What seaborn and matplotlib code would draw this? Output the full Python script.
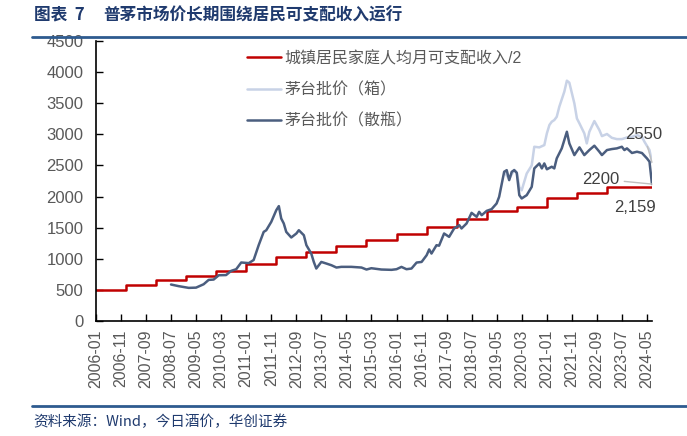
import pandas as pd
import matplotlib.pyplot as plt
import matplotlib.dates as mdates
from matplotlib.lines import Line2D
import seaborn as sns

# 城镇居民家庭人均月可支配收入/2（每年1月起更新）
income_months = ['2006-01', '2007-01', '2008-01', '2009-01', '2010-01', '2011-01', '2012-01',
                 '2013-01', '2014-01', '2015-01', '2016-01', '2017-01', '2018-01', '2019-01',
                 '2020-01', '2021-01', '2022-01', '2023-01', '2024-01', '2024-07']
income_values = [490, 574, 658, 716, 796, 909, 1024, 1103, 1202, 1300, 1401, 1517, 1635,
                 1765, 1826, 1975, 2053, 2159, 2159, 2159]

# 茅台批价（散瓶）
loose_months = ['2008-07', '2008-10', '2009-02', '2009-05', '2009-08', '2009-10', '2009-12',
                '2010-02', '2010-05', '2010-07', '2010-09', '2010-11', '2011-02', '2011-04',
                '2011-06', '2011-08', '2011-09', '2011-11', '2012-01', '2012-02', '2012-03',
                '2012-04', '2012-05', '2012-07', '2012-09', '2012-10', '2012-12', '2013-01',
                '2013-03', '2013-04', '2013-05', '2013-07', '2013-09', '2013-11', '2014-01',
                '2014-03', '2014-07', '2014-11', '2015-01', '2015-03', '2015-07', '2015-11',
                '2016-01', '2016-03', '2016-05', '2016-07', '2016-09', '2016-11', '2017-01',
                '2017-02', '2017-03', '2017-05', '2017-06', '2017-08', '2017-10', '2017-12',
                '2018-02', '2018-03', '2018-05', '2018-07', '2018-09', '2018-10', '2018-11',
                '2019-01', '2019-03', '2019-05', '2019-06', '2019-08', '2019-09', '2019-10',
                '2019-11', '2019-12', '2020-01', '2020-02', '2020-03', '2020-05', '2020-07',
                '2020-08', '2020-10', '2020-11', '2020-12', '2021-01', '2021-03', '2021-04',
                '2021-05', '2021-07', '2021-09', '2021-10', '2021-12', '2022-02', '2022-04',
                '2022-06', '2022-08', '2022-10', '2022-11', '2023-01', '2023-03', '2023-05',
                '2023-07', '2023-08', '2023-09', '2023-11', '2024-01', '2024-03', '2024-05',
                '2024-06', '2024-07']
loose_values = [586, 560, 532, 536, 590, 660, 666, 735, 738, 805, 832, 940, 930, 980,
                1218, 1432, 1458, 1593, 1781, 1846, 1647, 1567, 1432, 1342, 1406, 1459, 1378,
                1218, 1084, 949, 843, 949, 923, 896, 859, 870, 870, 859, 827, 848, 827, 822,
                832, 869, 832, 843, 939, 949, 1057, 1150, 1084, 1218, 1210, 1406, 1352, 1487,
                1540, 1487, 1567, 1738, 1674, 1754, 1700, 1770, 1797, 1888, 1995, 2397, 2424,
                2264, 2397, 2424, 2380, 2022, 1969, 2022, 2156, 2452, 2532, 2452, 2532, 2438,
                2479, 2452, 2613, 2774, 3041, 2854, 2666, 2790, 2666, 2747, 2817, 2720, 2666,
                2747, 2763, 2774, 2800, 2747, 2774, 2700, 2720, 2700, 2613, 2560, 2200]

# 茅台批价（箱）
case_months = ['2019-08', '2019-10', '2019-12', '2020-01', '2020-02', '2020-03', '2020-05',
               '2020-07', '2020-08', '2020-10', '2020-12', '2021-01', '2021-02', '2021-03',
               '2021-04', '2021-05', '2021-06', '2021-08', '2021-09', '2021-10', '2021-12',
               '2022-01', '2022-02', '2022-04', '2022-05', '2022-06', '2022-08', '2022-10',
               '2022-11', '2023-01', '2023-03', '2023-05', '2023-07', '2023-09', '2023-11',
               '2024-01', '2024-03', '2024-04', '2024-06', '2024-07']
case_values = [2400, 2280, 2430, 2390, 2150, 2100, 2370, 2500, 2800, 2790, 2827, 3015, 3150,
               3202, 3229, 3282, 3443, 3685, 3862, 3830, 3497, 3255, 3175, 3015, 2854, 3041,
               3213, 3068, 2971, 3005, 2944, 2923, 2923, 2949, 2960, 2987, 2960, 2880, 2747,
               2550]

tick_months = pd.date_range('2006-01-01', '2024-05-01', freq='10MS')

income = pd.DataFrame({'date': pd.to_datetime(income_months), 'value': income_values})
loose = pd.DataFrame({'date': pd.to_datetime(loose_months), 'value': loose_values})
case = pd.DataFrame({'date': pd.to_datetime(case_months), 'value': case_values})

sns.set_style('ticks')
plt.rcParams['font.family'] = ['Liberation Sans', 'Noto Sans CJK SC', 'DejaVu Sans']

fig = plt.figure(figsize=(6.87, 4.36), dpi=100)
ax = fig.add_axes([0.1397, 0.2638, 0.8093, 0.6422])

sns.lineplot(data=income, x='date', y='value', ax=ax, color='#C00000', lw=1.8,
             drawstyle='steps-post', label='城镇居民家庭人均月可支配收入/2')
sns.lineplot(data=case, x='date', y='value', ax=ax, color='#C8D2E6', lw=1.8,
             label='茅台批价（箱）')
sns.lineplot(data=loose, x='date', y='value', ax=ax, color='#4B5E7F', lw=1.8,
             label='茅台批价（散瓶）')

ax.set_xlim(pd.Timestamp('2006-01-01'), pd.Timestamp('2024-07-01'))
ax.set_ylim(0, 4500)
ax.set_yticks(range(0, 4501, 500))
ax.set_xticks(tick_months)
ax.xaxis.set_major_formatter(mdates.DateFormatter('%Y-%m'))
ax.set_xlabel('')
ax.set_ylabel('')
ax.tick_params(axis='x', direction='in', length=5, width=1, color='black',
               labelsize=11.5, labelcolor='#595959', rotation=90, pad=6)
ax.tick_params(axis='y', direction='in', length=5, width=1, color='black',
               labelsize=12, labelcolor='#595959', pad=9)
for side in ['top', 'right']:
    ax.spines[side].set_visible(False)
for side in ['left', 'bottom']:
    ax.spines[side].set_color('black')
    ax.spines[side].set_linewidth(1.2)

leg = ax.legend(loc='upper left', bbox_to_anchor=(0.272, 0.966), frameon=False,
                fontsize=11.5, handlelength=2.1, handletextpad=0.25, labelspacing=1.0,
                borderpad=0, borderaxespad=0)
for t in leg.get_texts():
    t.set_color('#595959')

end = pd.Timestamp('2024-07-01')
ax.annotate('2550', xy=(end, 2550), xytext=(-8, 28), textcoords='offset pixels',
            ha='center', va='center', fontsize=12, color='#404040',
            arrowprops=dict(arrowstyle='-', color='#BFBFBF', lw=1, shrinkA=1, shrinkB=0))
ax.annotate('2200', xy=(end, 2200), xytext=(-51, 5), textcoords='offset pixels',
            ha='center', va='center', fontsize=12, color='#404040',
            arrowprops=dict(arrowstyle='-', color='#BFBFBF', lw=1, shrinkA=1, shrinkB=0))
ax.annotate('2,159', xy=(end, 2159), xytext=(-17, -21), textcoords='offset pixels',
            ha='center', va='center', fontsize=12, color='#404040')

title_color = '#1F3A6E'
fig.text(0.0495, 0.9656, '图表  7', fontsize=12, fontweight='bold', color=title_color,
         va='center', family=['Noto Sans CJK SC'])
fig.text(0.150, 0.9656, '普茅市场价长期围绕居民可支配收入运行', fontsize=12,
         fontweight='bold', color=title_color, va='center', family=['Noto Sans CJK SC'])
fig.add_artist(Line2D([0.0466, 1.0], [0.915, 0.915], transform=fig.transFigure,
                      color='#2E5B8F', lw=2))
fig.add_artist(Line2D([0.0466, 1.0], [0.0688, 0.0688], transform=fig.transFigure,
                      color='#2E5B8F', lw=2))
fig.text(0.048, 0.0328, '资料来源：Wind，今日酒价，华创证券', fontsize=10.5,
         color='#1F3A6E', va='center', style='italic',
         family=['Noto Sans CJK SC', 'DejaVu Sans'])

fig.savefig('out.png', dpi=100)
